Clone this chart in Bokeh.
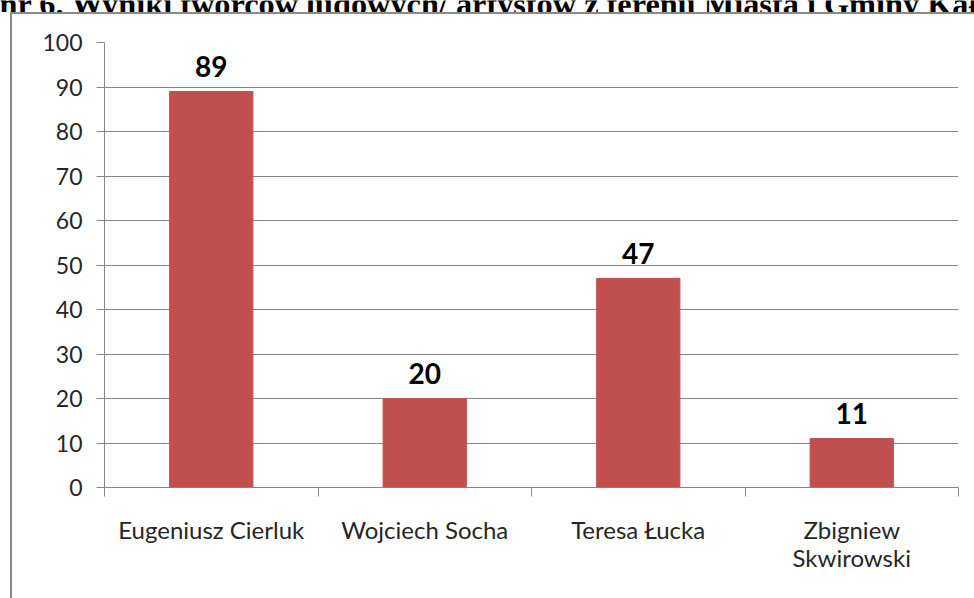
from bokeh.plotting import figure
from bokeh.layouts import column
from bokeh.models import (ColumnDataSource, LinearAxis, FixedTicker, Label,
                          Range1d, GlobalInlineStyleSheet)
from bokeh.core.properties import value
from bokeh.embed import file_html
from bokeh.resources import INLINE

# ---- data ----
names = ["Eugeniusz Cierluk", "Wojciech Socha", "Teresa Łucka", "Zbigniew\nSkwirowski"]
votes = [89, 20, 47, 11]
y_ticks = [0, 10, 20, 30, 40, 50, 60, 70, 80, 90, 100]
title_text = "nr 6. Wyniki twórców ludowych/ artystów z terenu Miasta i Gminy Kałuszyn"

W, H = 974, 598
TH = 12                                # height of the caption strip at the top of the page
FL, FR, FT, FB = 104, 958, 42, 487     # frame edges in page px

pos = list(range(len(names)))
src = ColumnDataSource(dict(x=pos, val=votes, lab=[str(v) for v in votes]))

css = ("html,body{margin:0;padding:0;overflow:hidden;}"
       "body::after{content:'';position:fixed;left:10px;top:12px;width:3000px;height:3000px;"
       "border-left:2.5px solid #8a8a8a;border-top:2.5px solid #8a8a8a;pointer-events:none;}")

# ---- caption strip (text cut off by the top edge of the page) ----
t = figure(width=W, height=TH, x_range=Range1d(0, 1), y_range=Range1d(0, 1),
           output_backend="svg", toolbar_location=None, x_axis_location=None,
           y_axis_location=None, min_border=0, title=None)
t.outline_line_color = None
t.xgrid.visible = False
t.ygrid.visible = False

# ---- chart ----
PH = H - TH
p = figure(width=W, height=PH, x_range=Range1d(-0.5, len(names) - 0.5),
           y_range=Range1d(0, 100), output_backend="svg", toolbar_location=None,
           x_axis_location=None, y_axis_location=None, title=None,
           min_border_left=FL, min_border_right=W - FR, min_border_top=FT - TH,
           min_border_bottom=H - FB)
p.outline_line_color = None
p.background_fill_color = "white"
p.border_fill_color = "white"

# keep the caption strip's frame independent from the chart's frame
if "frame_align" in t.properties():
    t.frame_align = False
    p.frame_align = False
    lx = -1
else:
    lx = -1 - FL

t.add_layout(Label(x=lx, y=TH - 3, x_units="screen", y_units="screen", text=title_text,
                   text_font="Liberation Serif", text_font_style="bold",
                   text_font_size="32.3px", text_color="black",
                   text_baseline="alphabetic", text_align="left"))

grey = "#868686"
txt = "#262626"

# y axis
yax = LinearAxis(ticker=FixedTicker(ticks=y_ticks))
yax.axis_line_color = grey
yax.major_tick_line_color = grey
yax.major_tick_out = 8
yax.major_tick_in = 0
yax.minor_tick_line_color = None
yax.major_label_text_font = "Lato"
yax.major_label_text_font_size = "23px"
yax.major_label_text_color = txt
yax.major_label_standoff = 14
p.add_layout(yax, "left")

# category axis: labels at centres, tick marks at category boundaries
cax = LinearAxis(ticker=FixedTicker(ticks=pos,
                                    minor_ticks=[i - 0.5 for i in range(len(names) + 1)]))
cax.axis_line_color = grey
cax.major_tick_line_color = None
cax.major_tick_out = 0
cax.major_tick_in = 0
cax.minor_tick_line_color = grey
cax.minor_tick_out = 9
cax.minor_tick_in = 0
cax.major_label_text_font = "Lato"
cax.major_label_text_font_size = "24px"
cax.major_label_text_color = txt
cax.major_label_standoff = 18
cax.major_label_overrides = {i: n for i, n in zip(pos, names)}
cax.major_label_text_line_height = 0.97
p.add_layout(cax, "below")

p.ygrid.ticker = FixedTicker(ticks=y_ticks)
p.ygrid.grid_line_color = grey
p.xgrid.grid_line_color = None

p.vbar(x="x", top="val", width=0.39, source=src, fill_color="#C0504D", line_color="#C0504D")
p.text(x="x", y="val", text="lab", source=src, text_align="center", text_baseline="alphabetic",
       y_offset=-25, text_font=value("Lato"), text_font_style="bold", text_font_size="28px",
       text_color="black")

layout = column(t, p, spacing=0)
layout.stylesheets = [GlobalInlineStyleSheet(css=css)]

open("out.html", "w").write(file_html(layout, INLINE))
